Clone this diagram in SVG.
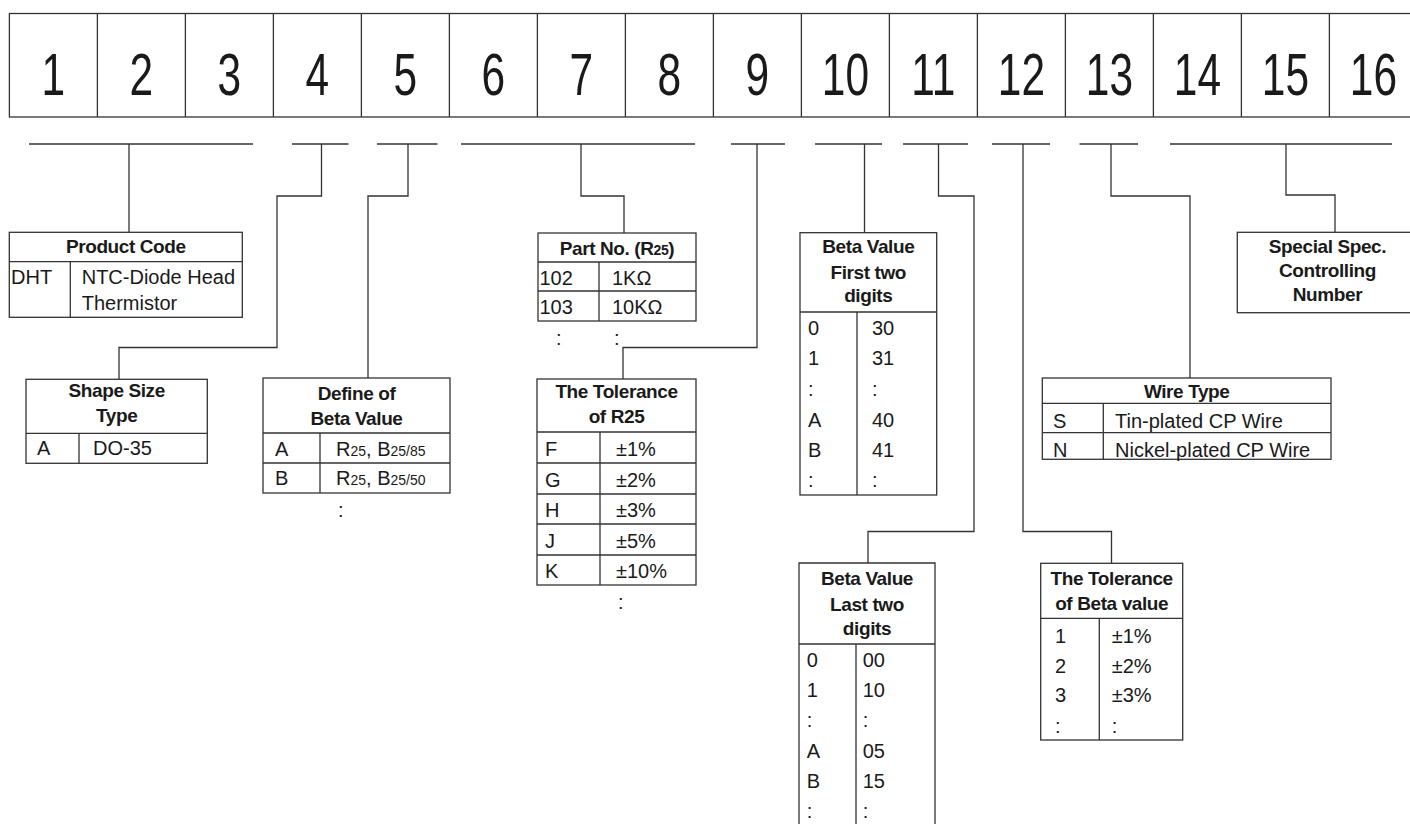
<svg xmlns="http://www.w3.org/2000/svg" width="1410" height="825" viewBox="0 0 1410 825">
<style>
.ln{stroke:#333;stroke-width:1.3;fill:none}
.bx{fill:#fff;stroke:#333;stroke-width:1.3}
.t{font-family:"Liberation Sans",Arial,sans-serif;font-size:20px;fill:#1a1a1a}
.h{font-weight:bold;font-size:19px;text-anchor:middle;letter-spacing:-0.4px}
.n{font-family:"Liberation Sans",Arial,sans-serif;font-size:59px;fill:#1a1a1a;text-anchor:middle}
.s{font-size:14px}
</style>
<rect width="1410" height="825" fill="#fff"/>
<g id="digits">
<rect class="bx" x="9.4" y="13.5" width="1408" height="103.5"/>
<path class="ln" d="M97.4 13.5V117M185.4 13.5V117M273.4 13.5V117M361.4 13.5V117M449.4 13.5V117M537.4 13.5V117M625.4 13.5V117M713.4 13.5V117M801.4 13.5V117M889.4 13.5V117M977.4 13.5V117M1065.4 13.5V117M1153.4 13.5V117M1241.4 13.5V117M1329.4 13.5V117"/>
<text class="n" transform="translate(53.4,95.3) scale(0.72,1)">1</text>
<text class="n" transform="translate(141.4,95.3) scale(0.72,1)">2</text>
<text class="n" transform="translate(229.4,95.3) scale(0.72,1)">3</text>
<text class="n" transform="translate(317.4,95.3) scale(0.72,1)">4</text>
<text class="n" transform="translate(405.4,95.3) scale(0.72,1)">5</text>
<text class="n" transform="translate(493.4,95.3) scale(0.72,1)">6</text>
<text class="n" transform="translate(581.4,95.3) scale(0.72,1)">7</text>
<text class="n" transform="translate(669.4,95.3) scale(0.72,1)">8</text>
<text class="n" transform="translate(757.4,95.3) scale(0.72,1)">9</text>
<text class="n" transform="translate(845.4,95.3) scale(0.72,1)">10</text>
<text class="n" transform="translate(933.4,95.3) scale(0.72,1)">11</text>
<text class="n" transform="translate(1021.4,95.3) scale(0.72,1)">12</text>
<text class="n" transform="translate(1109.4,95.3) scale(0.72,1)">13</text>
<text class="n" transform="translate(1197.4,95.3) scale(0.72,1)">14</text>
<text class="n" transform="translate(1285.4,95.3) scale(0.72,1)">15</text>
<text class="n" transform="translate(1373.4,95.3) scale(0.72,1)">16</text>
</g>
<g id="connectors" class="ln">
<path d="M29 144H253M292 144H348.5M377 144H437.5M461 144H695M731 144H785M815 144H882M903 144H968M992 144H1050M1079.5 144H1138M1170 144H1392"/>
<path d="M129 144V232.3"/>
<path d="M321.5 144V196H277V347.5H119V379.3"/>
<path d="M408 144V196H368V378"/>
<path d="M581 144V196H624V233"/>
<path d="M757 144V347.5H623V379"/>
<path d="M864.5 144V232.7"/>
<path d="M938.5 144V196H974V531.5H868V563"/>
<path d="M1023 144V531.5H1111.5V563.3"/>
<path d="M1111 144V196H1190V378"/>
<path d="M1286 144V195H1335V232.3"/>
</g>
<g id="product-code">
<rect class="bx" x="9.3" y="232.3" width="233" height="85"/>
<path class="ln" d="M9.3 261.7H242.3M70.3 261.7V317.3"/>
<text class="t h" x="125.8" y="253">Product Code</text>
<text class="t" x="11" y="284">DHT</text>
<text class="t" x="81.7" y="284">NTC-Diode Head</text>
<text class="t" x="81.7" y="310">Thermistor</text>
</g>
<g id="shape-size">
<rect class="bx" x="26" y="379.3" width="181.3" height="84"/>
<path class="ln" d="M26 433.3H207.3M79 433.3V463.3"/>
<text class="t h" x="116.7" y="397">Shape Size</text>
<text class="t h" x="116.7" y="422">Type</text>
<text class="t" x="37" y="455">A</text>
<text class="t" x="93" y="455">DO-35</text>
</g>
<g id="define-beta">
<rect class="bx" x="263" y="378" width="187" height="115"/>
<path class="ln" d="M263 433H450M263 463H450M320 433V493"/>
<text class="t h" x="356.5" y="400">Define of</text>
<text class="t h" x="356.5" y="425">Beta Value</text>
<text class="t" x="275" y="456">A</text>
<text class="t" x="336" y="456">R<tspan class="s">25</tspan>, B<tspan class="s">25/85</tspan></text>
<text class="t" x="275" y="485">B</text>
<text class="t" x="336" y="485">R<tspan class="s">25</tspan>, B<tspan class="s">25/50</tspan></text>
<text class="t" x="338" y="517">:</text>
</g>
<g id="part-no">
<rect class="bx" x="538" y="233" width="158" height="88"/>
<path class="ln" d="M538 262H696M538 291H696M599 262V321"/>
<text class="t h" x="617" y="255">Part No. (R<tspan font-size="14px">25</tspan>)</text>
<text class="t" x="539.5" y="285">102</text>
<text class="t" x="612" y="285">1KΩ</text>
<text class="t" x="539.5" y="314">103</text>
<text class="t" x="612" y="314">10KΩ</text>
<text class="t" x="556" y="345">:</text>
<text class="t" x="614" y="345">:</text>
</g>
<g id="tolerance-r25">
<rect class="bx" x="537" y="379" width="159" height="206"/>
<path class="ln" d="M537 432H696M537 463H696M537 494H696M537 524H696M537 555H696M600 432V585"/>
<text class="t h" x="616.5" y="398">The Tolerance</text>
<text class="t h" x="616.5" y="423">of R25</text>
<text class="t" x="545" y="456">F</text>
<text class="t" x="616" y="456">±1%</text>
<text class="t" x="545" y="486.5">G</text>
<text class="t" x="616" y="486.5">±2%</text>
<text class="t" x="545" y="517">H</text>
<text class="t" x="616" y="517">±3%</text>
<text class="t" x="545" y="547.5">J</text>
<text class="t" x="616" y="547.5">±5%</text>
<text class="t" x="545" y="578">K</text>
<text class="t" x="616" y="578">±10%</text>
<text class="t" x="618" y="609">:</text>
</g>
<g id="beta-first">
<rect class="bx" x="800" y="232.7" width="136.7" height="262.3"/>
<path class="ln" d="M800 312H936.7M857 312V495"/>
<text class="t h" x="868.3" y="253">Beta Value</text>
<text class="t h" x="868.3" y="278.5">First two</text>
<text class="t h" x="868.3" y="302">digits</text>
<text class="t" x="808" y="335">0</text><text class="t" x="872" y="335">30</text>
<text class="t" x="808" y="365">1</text><text class="t" x="872" y="365">31</text>
<text class="t" x="808" y="396">:</text><text class="t" x="872" y="396">:</text>
<text class="t" x="808" y="427">A</text><text class="t" x="872" y="427">40</text>
<text class="t" x="808" y="457">B</text><text class="t" x="872" y="457">41</text>
<text class="t" x="808" y="487">:</text><text class="t" x="872" y="487">:</text>
</g>
<g id="beta-last">
<path class="bx" d="M799 824V563H935V824"/>
<path class="ln" d="M799 644H935M856 644V824"/>
<text class="t h" x="867" y="585">Beta Value</text>
<text class="t h" x="867" y="611">Last two</text>
<text class="t h" x="867" y="635">digits</text>
<text class="t" x="806.7" y="667">0</text><text class="t" x="862.7" y="667">00</text>
<text class="t" x="806.7" y="697">1</text><text class="t" x="862.7" y="697">10</text>
<text class="t" x="806.7" y="727">:</text><text class="t" x="862.7" y="727">:</text>
<text class="t" x="806.7" y="758">A</text><text class="t" x="862.7" y="758">05</text>
<text class="t" x="806.7" y="788">B</text><text class="t" x="862.7" y="788">15</text>
<text class="t" x="806.7" y="818">:</text><text class="t" x="862.7" y="818">:</text>
</g>
<g id="tolerance-beta">
<rect class="bx" x="1040.7" y="563.3" width="142" height="176.7"/>
<path class="ln" d="M1040.7 618.3H1182.7M1099.3 618.3V740"/>
<text class="t h" x="1111.7" y="585">The Tolerance</text>
<text class="t h" x="1111.7" y="610">of Beta value</text>
<text class="t" x="1055" y="643">1</text><text class="t" x="1111.7" y="643">±1%</text>
<text class="t" x="1055" y="673">2</text><text class="t" x="1111.7" y="673">±2%</text>
<text class="t" x="1055" y="702">3</text><text class="t" x="1111.7" y="702">±3%</text>
<text class="t" x="1055" y="733">:</text><text class="t" x="1111.7" y="733">:</text>
</g>
<g id="wire-type">
<rect class="bx" x="1042.3" y="378" width="288.7" height="81.3"/>
<path class="ln" d="M1042.3 403.3H1331M1042.3 432.7H1331M1103.3 403.3V459.3"/>
<text class="t h" x="1186.7" y="397.5">Wire Type</text>
<text class="t" x="1053" y="428">S</text>
<text class="t" x="1115" y="428">Tin-plated CP Wire</text>
<text class="t" x="1053" y="456.5">N</text>
<text class="t" x="1115" y="456.5">Nickel-plated CP Wire</text>
</g>
<g id="special-spec">
<rect class="bx" x="1237.3" y="232.3" width="180" height="80.4"/>
<text class="t h" x="1327.5" y="253">Special Spec.</text>
<text class="t h" x="1327.5" y="277">Controlling</text>
<text class="t h" x="1327.5" y="301">Number</text>
</g>
</svg>
